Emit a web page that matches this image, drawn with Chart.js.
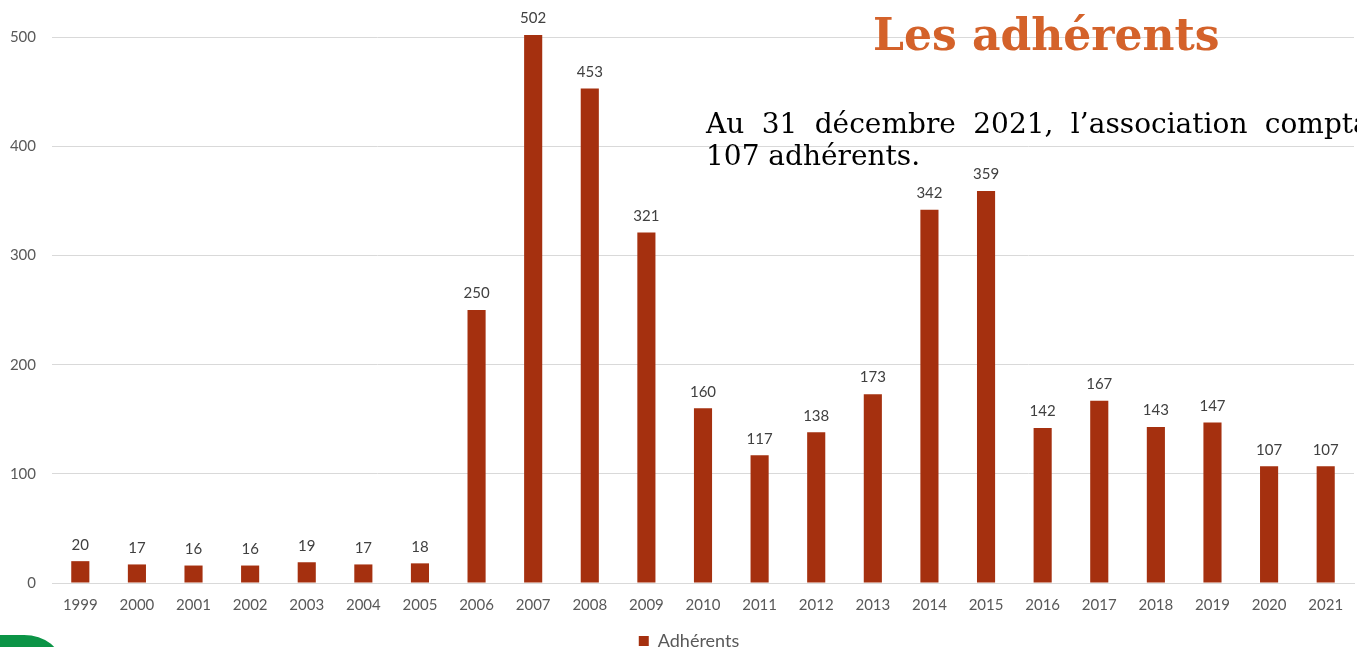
<!DOCTYPE html>
<html lang="fr">
<head>
<meta charset="utf-8">
<script src="https://cdn.jsdelivr.net/npm/chart.js@4.4.1/dist/chart.umd.min.js"></script>
<style>
  html, body { margin: 0; padding: 0; background: #fff; }
  body { width: 1357px; height: 647px; overflow: hidden; position: relative; }
  #wrap { position: absolute; left: 0; top: -97px; width: 1357px; height: 760px; }
  #titre { position: absolute; left: 873px; top: 9px; margin: 0;
           font: bold 44px "DejaVu Serif", serif; color: #D4622A; white-space: nowrap; }
  #texte { position: absolute; left: 706px; top: 108px; width: 684px; margin: 0;
           font: 28px "DejaVu Serif", serif; line-height: 32px; text-align: justify; color: #000; }
  #vert { position: absolute; left: -20px; top: 635px; width: 82px; height: 40px;
          background: #0B9446; border-top-right-radius: 38px 30px; }
</style>
</head>
<body>
<div id="wrap"><canvas id="myChart" width="1357" height="760"></canvas></div>
<h1 id="titre">Les adhérents</h1>
<p id="texte">Au 31 décembre 2021, l’association comptait 107 adhérents.</p>
<div id="vert"></div>
<script>
var years = ['1999','2000','2001','2002','2003','2004','2005','2006','2007','2008','2009','2010',
             '2011','2012','2013','2014','2015','2016','2017','2018','2019','2020','2021'];
var adherents = [20, 17, 16, 16, 19, 17, 18, 250, 502, 453, 321, 160,
                 117, 138, 173, 342, 359, 142, 167, 143, 147, 107, 107];
var seriesName = 'Adhérents';

// values written above each bar
var barLabels = {
    id: 'barLabels',
    afterLayout: function (chart) {
        // legend sits a little right of the canvas centre in the slide
        chart.legend.left += 12;
        chart.legend.right += 12;
    },
    afterDatasetsDraw: function (chart) {
        var ctx = chart.ctx;
        var meta = chart.getDatasetMeta(0);
        ctx.save();
        ctx.fillStyle = '#404040';
        ctx.font = '15px Lato';
        ctx.textAlign = 'center';
        ctx.textBaseline = 'bottom';
        meta.data.forEach(function (bar, i) {
            ctx.fillText(chart.data.datasets[0].data[i], bar.x, bar.y - 9);
        });
        ctx.restore();
    }
};

var ctx = document.getElementById('myChart').getContext('2d');
var myChart = new Chart(ctx, {
    type: 'bar',
    data: {
        labels: years,
        datasets: [{
            label: seriesName,
            data: adherents,
            backgroundColor: '#A5300F',
            barPercentage: 0.32,
            categoryPercentage: 1
        }]
    },
    plugins: [barLabels],
    options: {
        responsive: false,
        maintainAspectRatio: false,
        animation: false,
        layout: { padding: { top: 9, right: 3, bottom: 3, left: 0 } },
        scales: {
            x: {
                grid: { display: false },
                border: { color: '#d9d9d9' },
                ticks: { color: '#595959', font: { family: 'Lato', size: 15 }, padding: 5, maxRotation: 0 }
            },
            y: {
                min: 0, max: 600,
                afterFit: function (scale) { scale.width = 52; },
                grid: { color: '#d9d9d9', drawTicks: false },
                border: { display: false },
                ticks: { stepSize: 100, color: '#595959', font: { family: 'Lato', size: 15 }, padding: 16 }
            }
        },
        plugins: {
            tooltip: { enabled: false },
            legend: {
                position: 'bottom',
                labels: { boxWidth: 10, boxHeight: 10, color: '#595959', font: { family: 'Lato', size: 18 }, padding: 13 }
            }
        }
    }
});
</script>
</body>
</html>
